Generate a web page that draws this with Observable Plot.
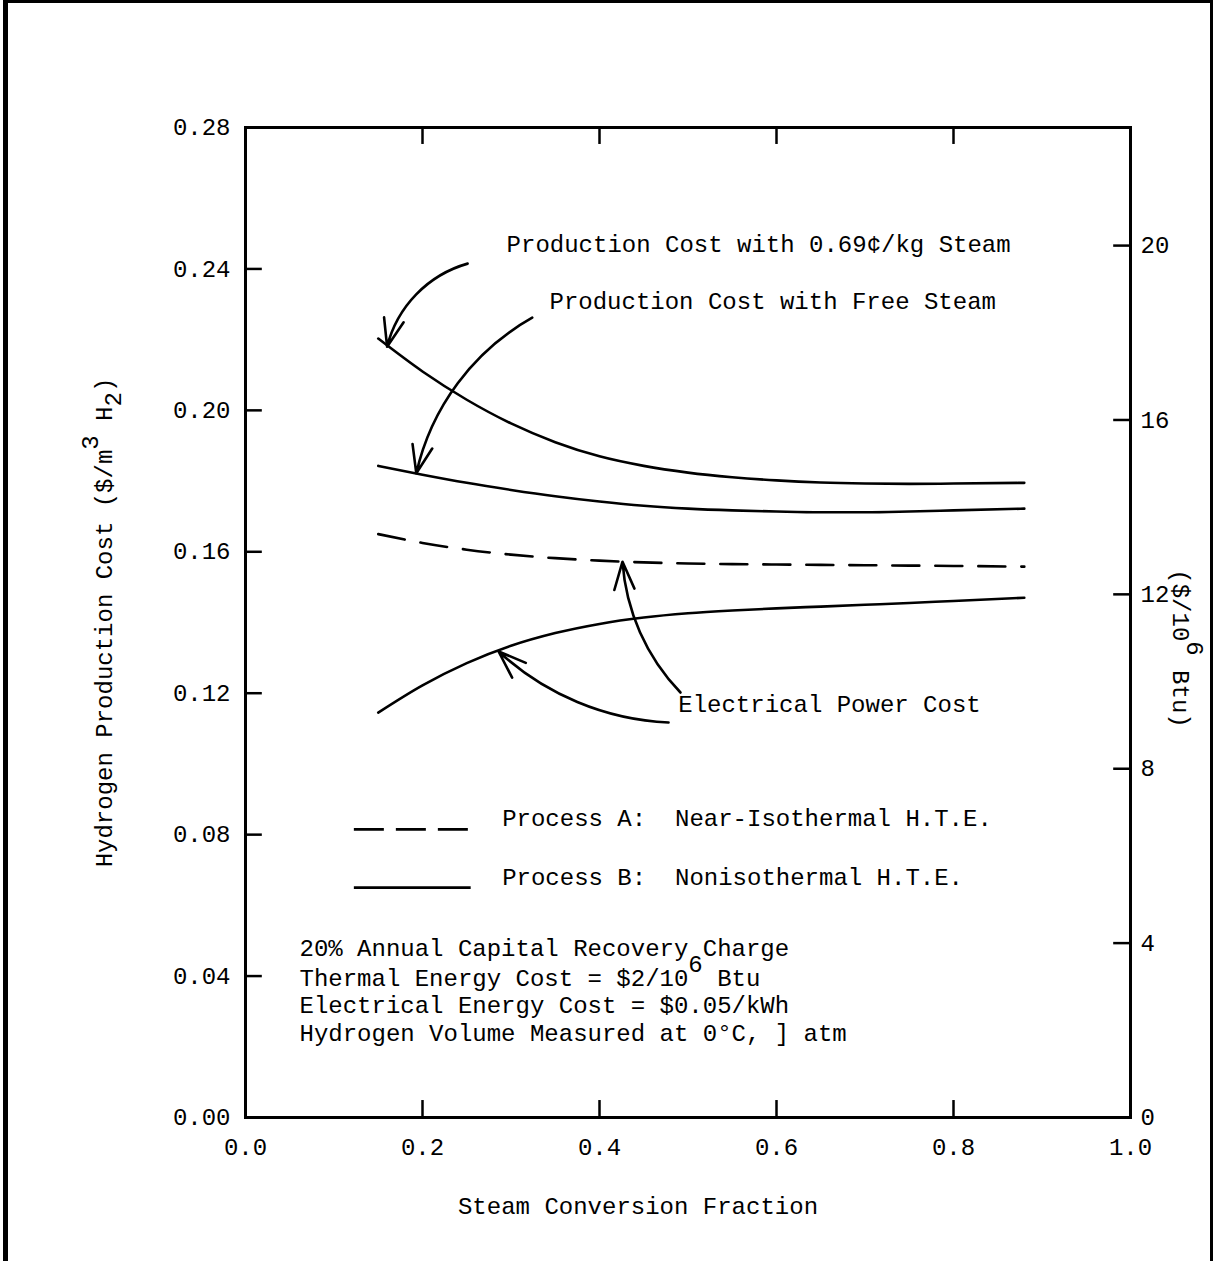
<!DOCTYPE html>
<html><head><meta charset="utf-8">
<script src="https://cdn.jsdelivr.net/npm/d3@7"></script>
<script src="https://cdn.jsdelivr.net/npm/@observablehq/plot@0.6"></script>
<style>
body{margin:0;background:#fff;}
#wrap{position:relative;width:1215px;height:1261px;overflow:hidden;background:#fff;}
#border{position:absolute;left:3px;top:0;width:1202px;height:1280px;border-left:5px solid #000;border-top:3px solid #000;border-right:3px solid #000;pointer-events:none;}
</style></head><body><div id="wrap"><div id="chart"></div><div id="border"></div></div>
<script>
// ---- data ----
const conversion = [0.15, 0.20, 0.25, 0.30, 0.35, 0.40, 0.45, 0.50, 0.55, 0.60, 0.65, 0.70, 0.75, 0.80, 0.88];
const costWithSteamB = [0.2203, 0.2110, 0.2030, 0.1963, 0.1910, 0.1870, 0.1843, 0.1824, 0.1811, 0.1802, 0.1796, 0.1793, 0.1792, 0.1793, 0.1795];
const costFreeSteamB = [0.1843, 0.1818, 0.1795, 0.1775, 0.1757, 0.1742, 0.1730, 0.1722, 0.1717, 0.1714, 0.1712, 0.1712, 0.1714, 0.1717, 0.1722];
const elecCostA = [0.1650, 0.1625, 0.1606, 0.1592, 0.1582, 0.1575, 0.1570, 0.1567, 0.1565, 0.1564, 0.1563, 0.1562, 0.1561, 0.1560, 0.1558];
const elecCostB = [0.1145, 0.1222, 0.1285, 0.1334, 0.1370, 0.1396, 0.1414, 0.1426, 0.1434, 0.1440, 0.1445, 0.1450, 0.1455, 0.1461, 0.1470];

const xTicks = [0.0, 0.2, 0.4, 0.6, 0.8, 1.0];
const xInnerTicks = [0.2, 0.4, 0.6, 0.8];
const yTicks = [0.00, 0.04, 0.08, 0.12, 0.16, 0.20, 0.24, 0.28];
const yInnerTicks = [0.04, 0.08, 0.12, 0.16, 0.20, 0.24];
const btuTicks = [0, 4, 8, 12, 16, 20];
const btuInnerTicks = [4, 8, 12, 16, 20];
const dollarsPerM3PerBtuUnit = 0.01233; // right-axis conversion ($/m3 per $/10^6 Btu)

const xLabel = "Steam Conversion Fraction";
const yLabel = "Hydrogen Production Cost ($/m³ H₂)";
const yRightLabel = "($/10⁶ Btu)";

const annotationTexts = [
  {x: 0.295, y: 0.2469, text: "Production Cost with 0.69¢/kg Steam"},
  {x: 0.3435, y: 0.2308, text: "Production Cost with Free Steam"},
  {x: 0.489, y: 0.1168, text: "Electrical Power Cost"}
];
const arrows = [
  {x1: 0.251, y1: 0.2415, x2: 0.160, y2: 0.2180, bend: -30},
  {x1: 0.324, y1: 0.2262, x2: 0.193, y2: 0.1822, bend: -24},
  {x1: 0.4915, y1: 0.1202, x2: 0.426, y2: 0.1572, bend: 20},
  {x1: 0.478, y1: 0.1117, x2: 0.286, y2: 0.1318, bend: 20}
];
const legendItems = [
  {x1: 0.123, x2: 0.255, y: 0.0815, tx: 0.290, ty: 0.0846, dashed: true, text: "Process A:  Near-Isothermal H.T.E."},
  {x1: 0.123, x2: 0.255, y: 0.0650, tx: 0.290, ty: 0.0679, dashed: false, text: "Process B:  Nonisothermal H.T.E."}
];
const noteX = 0.061;
const noteLines = [
  {y: 0.0478, text: "20% Annual Capital Recovery Charge"},
  {y: 0.0393, text: "Thermal Energy Cost = $2/10⁶ Btu"},
  {y: 0.0317, text: "Electrical Energy Cost = $0.05/kWh"},
  {y: 0.0238, text: "Hydrogen Volume Measured at 0°C, ] atm"}
];

// ---- build ----
const font = "Liberation Mono, Courier New, monospace";
const toRows = (vals) => conversion.map((x, i) => ({x, y: vals[i]}));
const tickLenY = 0.0048, tickLenX = 0.019;
const btuInY = btuTicks.map(b => b * dollarsPerM3PerBtuUnit);
const dash = "27,16";

const lineStyle = {x: "x", y: "y", stroke: "black", strokeWidth: 2.6, curve: "monotone-x"};

const chart = Plot.plot({
  width: 1215, height: 1261,
  marginLeft: 245, marginRight: 85, marginTop: 127, marginBottom: 144,
  style: {fontFamily: font, fontSize: "24px", background: "white", color: "black"},
  x: {domain: [0, 1]},
  y: {domain: [0, 0.28]},
  marks: [
    Plot.frame({stroke: "black", strokeWidth: 3}),
    Plot.axisX({ticks: xTicks, tickSize: 0, tickPadding: 20, tickFormat: d3.format(".1f"), label: null, fontSize: 24}),
    Plot.axisY({anchor: "left", ticks: yTicks, tickSize: 0, tickPadding: 15, tickFormat: d3.format(".2f"), label: null, fontSize: 24}),
    Plot.axisY({anchor: "right", ticks: btuInY, tickSize: 0, tickPadding: 10, tickFormat: (d, i) => String(btuTicks[i]), label: null, fontSize: 24}),
    // inward tick marks
    Plot.ruleX(xInnerTicks, {x: d => d, y1: 0, y2: tickLenY, stroke: "black", strokeWidth: 2.5}),
    Plot.ruleX(xInnerTicks, {x: d => d, y1: 0.28 - tickLenY, y2: 0.28, stroke: "black", strokeWidth: 2.5}),
    Plot.ruleY(yInnerTicks, {y: d => d, x1: 0, x2: tickLenX, stroke: "black", strokeWidth: 2.5}),
    Plot.ruleY(btuInnerTicks, {y: d => d * dollarsPerM3PerBtuUnit, x1: 1 - tickLenX, x2: 1, stroke: "black", strokeWidth: 2.5}),
    // curves
    Plot.line(toRows(costWithSteamB), lineStyle),
    Plot.line(toRows(costFreeSteamB), lineStyle),
    Plot.line(toRows(elecCostB), lineStyle),
    Plot.line(toRows(elecCostA), {...lineStyle, strokeDasharray: dash}),
    // arrows
    ...arrows.map(a => Plot.arrow([a], {x1: "x1", y1: "y1", x2: "x2", y2: "y2", bend: a.bend, stroke: "black", strokeWidth: 2.6, headLength: 17, headAngle: 40})),
    // annotation texts
    Plot.text(annotationTexts, {x: "x", y: "y", text: "text", textAnchor: "start", fontSize: 24, fill: "black"}),
    // legend
    Plot.ruleY(legendItems.filter(d => d.dashed), {y: "y", x1: "x1", x2: "x2", stroke: "black", strokeWidth: 2.6, strokeDasharray: "30,12"}),
    Plot.ruleY(legendItems.filter(d => !d.dashed), {y: "y", x1: "x1", x2: "x2", stroke: "black", strokeWidth: 2.8}),
    Plot.text(legendItems, {x: "tx", y: "ty", text: "text", textAnchor: "start", fontSize: 24, fill: "black"}),
    // notes
    Plot.text(noteLines, {x: () => noteX, y: "y", text: "text", textAnchor: "start", fontSize: 24, fill: "black"}),
    // axis titles
    Plot.text([xLabel], {text: d => d, frameAnchor: "bottom", textAnchor: "middle", lineAnchor: "middle", dx: -50, dy: 89, fontSize: 24, fill: "black"}),
    Plot.text([yLabel], {text: d => d, frameAnchor: "left", textAnchor: "middle", lineAnchor: "middle", dx: -141, dy: 0, rotate: -90, fontSize: 24, fill: "black"}),
    Plot.text([yRightLabel], {text: d => d, frameAnchor: "right", textAnchor: "middle", lineAnchor: "middle", dx: 50, dy: 26, rotate: 90, fontSize: 24, fill: "black"})
  ]
});

// typewriter-style raised / lowered characters as tspans (text stays real text)
const shiftMap = {"⁶": ["6", -0.6], "³": ["3", -0.6], "₂": ["2", 0.35]};
const svgNS = "http://www.w3.org/2000/svg";
d3.select(chart).selectAll("text").each(function () {
  const el = this;
  if (el.children.length) return;
  const s = el.textContent;
  if (![...s].some(c => shiftMap[c])) return;
  el.textContent = "";
  let buf = "", pending = 0;
  const add = (txt, dy) => {
    const t = document.createElementNS(svgNS, "tspan");
    if (dy) t.setAttribute("dy", dy + "em");
    t.textContent = txt;
    el.appendChild(t);
  };
  for (const c of s) {
    if (shiftMap[c]) {
      if (buf) { add(buf, pending); pending = 0; buf = ""; }
      const [ch, off] = shiftMap[c];
      add(ch, off + pending);
      pending = -off;
    } else buf += c;
  }
  if (buf) add(buf, pending);
});
document.getElementById("chart").appendChild(chart);
</script>
</body></html>
